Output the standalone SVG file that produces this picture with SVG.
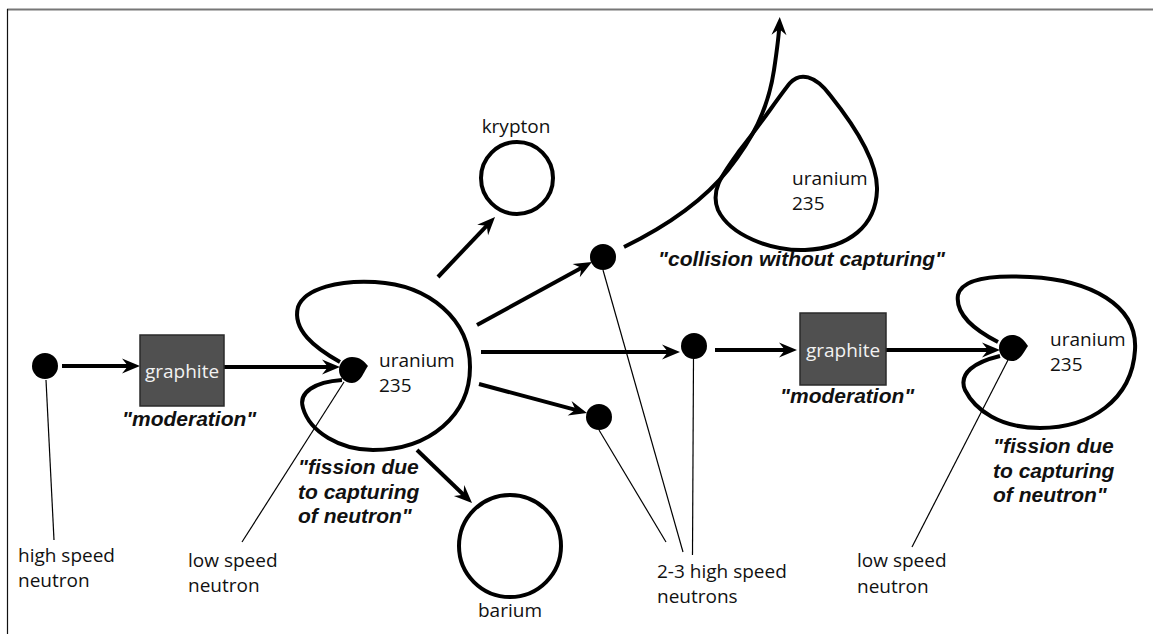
<svg xmlns="http://www.w3.org/2000/svg" width="1153" height="634" viewBox="0 0 1153 634">
<style>
.t{font-family:"Open Sans","Noto Sans",sans-serif;font-size:19px;fill:#111}
.b{font-family:"Liberation Sans",Arial,sans-serif;font-size:21px;font-weight:bold;font-style:italic;fill:#111}
.g{font-family:"Open Sans","Noto Sans",sans-serif;font-size:19px;fill:#f2f2f2;text-anchor:middle}
.thick{fill:none;stroke:#000;stroke-width:4}
.thin{fill:none;stroke:#000;stroke-width:1.2}
.box{fill:#505050;stroke:#2a2a2a;stroke-width:1.5}
.dot{fill:#000}
</style>
<defs>
<marker id="ah" markerUnits="userSpaceOnUse" viewBox="-14 -9 22 18" refX="0" refY="0" markerWidth="22" markerHeight="18" orient="auto">
<path d="M6,0 L-12,-7.5 L-6,0 L-12,7.5 Z" fill="#000"/>
</marker>
</defs>
<rect width="1153" height="634" fill="#fff"/>
<g id="frame">
<line x1="7" y1="9.5" x2="1153" y2="9.5" stroke="#777" stroke-width="2"/>
<line x1="7.5" y1="9" x2="7.5" y2="634" stroke="#111" stroke-width="1.2"/>
</g>
<g id="connectors">
<line class="thick" x1="62" y1="366" x2="134" y2="366" marker-end="url(#ah)"/>
<line class="thick" x1="224" y1="367" x2="334" y2="367" marker-end="url(#ah)"/>
<line class="thick" x1="438" y1="277" x2="490.9" y2="221.3" marker-end="url(#ah)"/>
<line class="thick" x1="477" y1="325" x2="586.7" y2="264.9" marker-end="url(#ah)"/>
<line class="thick" x1="481" y1="352" x2="674" y2="352" marker-end="url(#ah)"/>
<line class="thick" x1="479" y1="384" x2="581.2" y2="411.4" marker-end="url(#ah)"/>
<line class="thick" x1="417" y1="450" x2="467.7" y2="498.8" marker-end="url(#ah)"/>
<line class="thick" x1="715" y1="350" x2="791" y2="350" marker-end="url(#ah)"/>
<line class="thick" x1="886" y1="350" x2="994" y2="350" marker-end="url(#ah)"/>
<path class="thick" d="M624,247 C675,222 708,195 728,170 C752,140 768,110 774,70 C777,50 779,35 779.5,23" marker-end="url(#ah)"/>
<line class="thin" x1="46" y1="380" x2="54" y2="540"/>
<line class="thin" x1="344" y1="382" x2="242" y2="542"/>
<line class="thin" x1="599" y1="430" x2="666" y2="542"/>
<line class="thin" x1="603" y1="270" x2="683" y2="552"/>
<line class="thin" x1="693.5" y1="358" x2="692.5" y2="555"/>
<line class="thin" x1="1008" y1="360" x2="912" y2="547"/>
</g>
<g id="neutron-high-left">
<circle class="dot" cx="45" cy="366" r="13"/>
<text class="t" x="18" y="562">high speed</text>
<text class="t" x="18" y="587">neutron</text>
</g>
<g id="graphite-1">
<rect class="box" x="140" y="335" width="84" height="71"/>
<text class="g" x="182" y="378">graphite</text>
<text class="b" x="122" y="426">"moderation"</text>
</g>
<g id="uranium-1">
<path class="thick" d="M340,362 C315,348 292,330 298,307 C305,288 340,280 375,282 C430,285 470,320 470,367 C470,415 430,450 373,450 C340,450 310,432 303,408 C298,392 315,382 342,380"/>
<path class="dot" d="M352,357 C360,357 364,361 368,366 C364,371 361,383 352,383 C344.8,383 339,377.2 339,370 C339,362.8 344.8,357 352,357 Z"/>
<text class="t" x="379" y="367">uranium</text>
<text class="t" x="379" y="392">235</text>
<text class="b" x="298" y="474">"fission due</text>
<text class="b" x="298" y="499">to capturing</text>
<text class="b" x="298" y="523">of neutron"</text>
<text class="t" x="188" y="567">low speed</text>
<text class="t" x="188" y="592">neutron</text>
</g>
<g id="krypton">
<circle class="thick" cx="517" cy="178" r="36"/>
<text class="t" x="516" y="133" text-anchor="middle">krypton</text>
</g>
<g id="barium">
<circle class="thick" cx="510" cy="546" r="51"/>
<text class="t" x="510" y="617" text-anchor="middle">barium</text>
</g>
<g id="neutron-upper">
<circle class="dot" cx="603" cy="257" r="13"/>
</g>
<g id="neutron-middle">
<circle class="dot" cx="694" cy="346" r="13"/>
</g>
<g id="neutron-lower">
<circle class="dot" cx="599" cy="417" r="13"/>
<text class="t" x="657" y="578">2-3 high speed</text>
<text class="t" x="657" y="603">neutrons</text>
</g>
<g id="uranium-2">
<path class="thick" d="M790,83 C800,72 815,75 830,95 C850,120 878,160 877,190 C876,225 850,248 805,250 C770,251 730,235 718,210 C710,190 722,175 740,150 C760,125 780,95 790,83 Z"/>
<text class="t" x="792" y="185">uranium</text>
<text class="t" x="792" y="210">235</text>
<text class="b" x="658" y="266">"collision without capturing"</text>
</g>
<g id="graphite-2">
<rect class="box" x="800" y="313" width="86" height="72"/>
<text class="g" x="843" y="357">graphite</text>
<text class="b" x="780" y="403">"moderation"</text>
</g>
<g id="uranium-3">
<path class="thick" d="M998,342 C975,330 955,315 958,295 C962,278 995,275 1030,277 C1090,280 1138,305 1135,350 C1132,400 1090,428 1040,428 C1000,428 975,410 965,390 C958,373 975,362 1000,356"/>
<path class="dot" d="M1012,335 C1020,335 1024,340 1028,346 C1024,351 1021,361 1012,361 C1004.8,361 999,355.2 999,348 C999,340.8 1004.8,335 1012,335 Z"/>
<text class="t" x="1050" y="346" font-size="18">uranium</text>
<text class="t" x="1050" y="371" font-size="18">235</text>
<text class="b" x="993" y="453">"fission due</text>
<text class="b" x="993" y="478">to capturing</text>
<text class="b" x="993" y="502">of neutron"</text>
<text class="t" x="857" y="567">low speed</text>
<text class="t" x="857" y="593">neutron</text>
</g>
</svg>
